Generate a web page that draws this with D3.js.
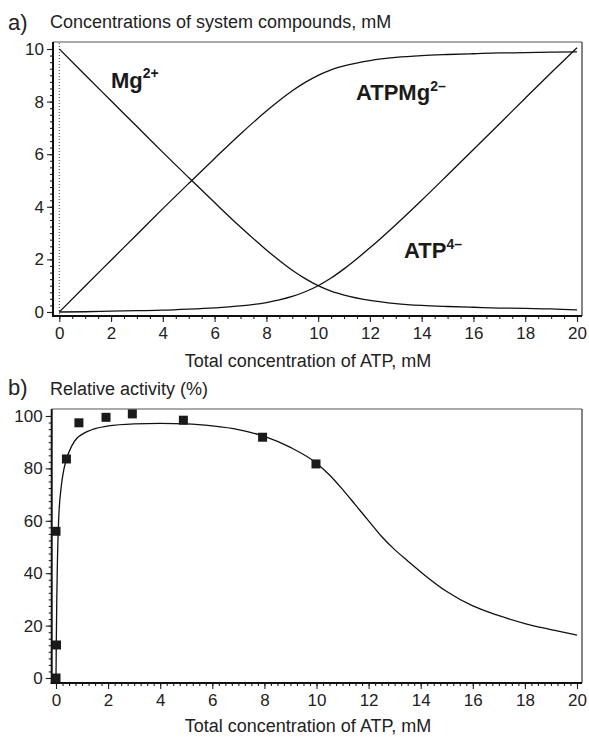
<!DOCTYPE html>
<html><head><meta charset="utf-8">
<script src="https://cdn.jsdelivr.net/npm/d3@7"></script>
<style>
body{margin:0;background:#fff;}
svg{display:block;font-family:"Liberation Sans",Arial,Helvetica,sans-serif;}
</style></head>
<body>
<svg id="chart" width="589" height="737"></svg>
<script>
// ---------- Panel a data (concentrations, mM) ----------
const atpTotalA = [0,1,2,3,4,5,6,7,8,8.5,9,9.5,10,10.5,11,12,13,14,15,16,17,18,19,20];
const mgFree    = [10,9.01,8.03,7.05,6.07,5.11,4.16,3.23,2.36,1.96,1.59,1.27,1.0,0.79,0.64,0.44,0.32,0.25,0.21,0.18,0.15,0.135,0.12,0.08];
const atpMg     = [0,0.99,1.97,2.95,3.93,4.89,5.84,6.77,7.64,8.04,8.41,8.73,9.0,9.21,9.36,9.56,9.68,9.75,9.79,9.82,9.85,9.86,9.88,9.89];
const atpFree   = [0,0.01,0.03,0.05,0.07,0.11,0.16,0.23,0.36,0.46,0.59,0.77,1.0,1.29,1.64,2.44,3.32,4.25,5.21,6.18,7.15,8.13,9.1,10.05];
const xTicksA = [0,2,4,6,8,10,12,14,16,18,20];
const yTicksA = [0,2,4,6,8,10];

// ---------- Panel b data (relative activity, %) ----------
const atpTotalB = [0,0.01,0.03,0.05,0.1,0.2,0.3,0.4,0.6,0.8,1,1.5,2,3,4,5,6,7,8,9,10,10.5,11,11.5,12,12.5,13,13.5,14,15,16,17,18,19,20];
const activityFit = [0,12,30,42,60,73,79.5,83.5,88.5,91.5,93,95.2,96.2,97,97.2,97,96.2,94.8,92.2,88,82,77.5,72,66,60,54,49,44.7,40.5,33,27.5,23.8,20.8,18.5,16.4];
const measuredX = [0,0.02,0,0.4,0.88,1.92,2.93,4.89,7.93,9.98];
const measuredY = [0,12.6,56,83.6,97.4,99.5,100.8,98.4,91.9,81.7];
const xTicksB = [0,2,4,6,8,10,12,14,16,18,20];
const yTicksB = [0,20,40,60,80,100];

const svg = d3.select("#chart");
const font = "17px";

function styleAxis(sel){
  sel.selectAll(".domain").remove();
  sel.selectAll("line").attr("stroke","#222").attr("stroke-width",1.1);
  sel.selectAll("text").attr("font-size",font).attr("fill","#222").attr("font-family","Liberation Sans, Arial, sans-serif");
}

function panel(cfg){
  const g = svg.append("g");
  const x = d3.scaleLinear().domain([0,20]).range(cfg.xr);
  const y = d3.scaleLinear().domain(cfg.yd).range(cfg.yr);
  // frame (thin top/right)
  g.append("line").attr("x1",cfg.left).attr("x2",cfg.right).attr("y1",cfg.top).attr("y2",cfg.top).attr("stroke","#555").attr("stroke-width",1);
  g.append("line").attr("x1",cfg.right).attr("x2",cfg.right).attr("y1",cfg.top).attr("y2",cfg.bottom).attr("stroke","#333").attr("stroke-width",1.2);
  // minor ticks
  const xm = g.append("g").attr("transform",`translate(0,${cfg.bottom})`)
    .call(d3.axisBottom(x).tickValues(d3.range(0,20.001,cfg.xMinor)).tickSize(3).tickFormat(""));
  styleAxis(xm);
  const xa = g.append("g").attr("transform",`translate(0,${cfg.bottom})`)
    .call(d3.axisBottom(x).tickValues(cfg.xTicks).tickSize(6).tickPadding(5));
  styleAxis(xa);
  const ym = g.append("g").attr("transform",`translate(${cfg.left},0)`)
    .call(d3.axisLeft(y).tickValues(d3.range(cfg.yd[0],cfg.yd[1]+0.001,cfg.yMinor)).tickSize(3).tickFormat(""));
  styleAxis(ym);
  const ya = g.append("g").attr("transform",`translate(${cfg.left},0)`)
    .call(d3.axisLeft(y).tickValues(cfg.yTicks).tickSize(6).tickPadding(3));
  styleAxis(ya);
  // axis lines (thick)
  g.append("line").attr("x1",cfg.left).attr("x2",cfg.left).attr("y1",cfg.top).attr("y2",cfg.bottom+1).attr("stroke","#111").attr("stroke-width",2);
  g.append("line").attr("x1",cfg.left-1).attr("x2",cfg.right).attr("y1",cfg.bottom).attr("y2",cfg.bottom).attr("stroke","#111").attr("stroke-width",2);
  return {g,x,y};
}

// ---------- Panel a ----------
const A = panel({xr:[59.3,577], yd:[0,10], yr:[312,49], left:53, right:582, top:42, bottom:316,
  xMinor:0.5, yMinor:0.25, xTicks:xTicksA, yTicks:yTicksA});
A.g.append("line").attr("x1",A.x(0)).attr("x2",A.x(0)).attr("y1",43).attr("y2",315)
  .attr("stroke","#444").attr("stroke-width",1).attr("stroke-dasharray","1,2");
const lineA = (ys)=> d3.line().x((d,i)=>A.x(atpTotalA[i])).y(d=>A.y(d)).curve(d3.curveMonotoneX)(ys);
[mgFree, atpMg, atpFree].forEach(s=>{
  A.g.append("path").attr("d",lineA(s)).attr("fill","none").attr("stroke","#111").attr("stroke-width",1.3);
});
function label(g, x, y, main, sup, dy){
  const t = g.append("text").attr("x",x).attr("y",y).attr("font-size","22px").attr("font-weight","bold").attr("fill","#1a1a1a");
  t.append("tspan").text(main);
  t.append("tspan").attr("dy",dy).attr("font-size","14px").text(sup);
}
label(A.g, 111, 88, "Mg", "2+", -10);
label(A.g, 356, 100, "ATPMg", "2–", -9);
label(A.g, 404, 258, "ATP", "4–", -9);

svg.append("text").attr("x",8).attr("y",30).attr("font-size","22px").attr("fill","#222").text("a)");
svg.append("text").attr("x",50).attr("y",28).attr("font-size","18px").attr("fill","#222").text("Concentrations of system compounds, mM");
svg.append("text").attr("x",308).attr("y",366.5).attr("text-anchor","middle").attr("font-size","18px").attr("fill","#222").text("Total concentration of ATP, mM");

// ---------- Panel b ----------
const B = panel({xr:[56,577], yd:[0,100], yr:[678,416], left:51.7, right:582, top:409, bottom:683,
  xMinor:0.25, yMinor:2.5, xTicks:xTicksB, yTicks:yTicksB});
B.g.append("path")
  .attr("d", d3.line().x((d,i)=>B.x(atpTotalB[i])).y(d=>B.y(d)).curve(d3.curveMonotoneX)(activityFit))
  .attr("fill","none").attr("stroke","#111").attr("stroke-width",1.3);
B.g.selectAll("rect.pt").data(measuredX).join("rect").attr("class","pt")
  .attr("x",(d)=>B.x(d)-4.5).attr("y",(d,i)=>B.y(measuredY[i])-4.5)
  .attr("width",9).attr("height",9).attr("fill","#1a1a1a");

svg.append("text").attr("x",8).attr("y",395).attr("font-size","22px").attr("fill","#222").text("b)");
svg.append("text").attr("x",50).attr("y",395).attr("font-size","18px").attr("fill","#222").text("Relative activity (%)");
svg.append("text").attr("x",308).attr("y",732).attr("text-anchor","middle").attr("font-size","18px").attr("fill","#222").text("Total concentration of ATP, mM");
</script>
</body></html>
